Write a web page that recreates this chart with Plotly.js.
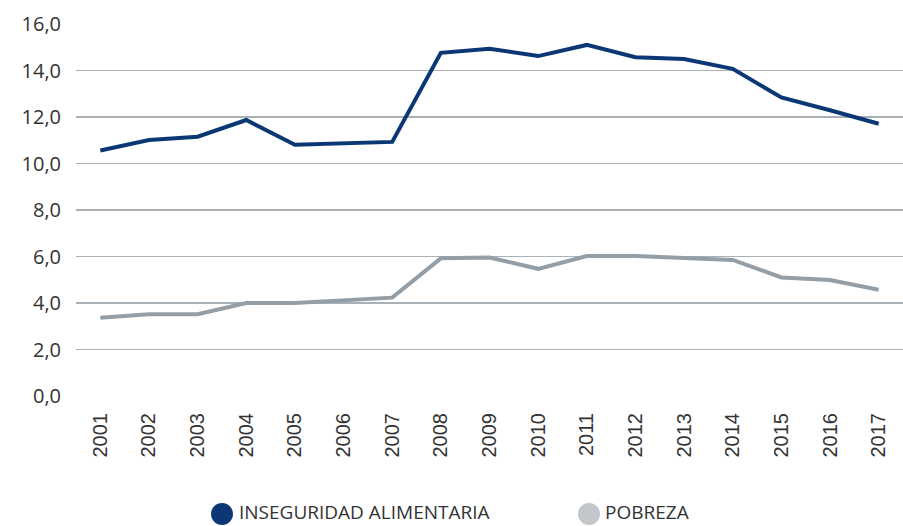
<!DOCTYPE html>
<html>
<head>
<meta charset="utf-8">
<script src="https://cdn.plot.ly/plotly-3.0.1.min.js"></script>
<style>html,body{margin:0;padding:0;background:#fff;}#chart{width:903px;height:526px;}</style>
</head>
<body>
<div id="chart"></div>
<script>
var years = ['2001','2002','2003','2004','2005','2006','2007','2008','2009','2010','2011','2012','2013','2014','2015','2016','2017'];
var inseguridad = [10.56, 11.01, 11.15, 11.87, 10.81, 10.87, 10.93, 14.76, 14.94, 14.62, 15.1, 14.57, 14.49, 14.07, 12.84, 12.29, 11.71];
var pobreza = [3.37, 3.52, 3.52, 4.0, 4.0, 4.12, 4.23, 5.92, 5.96, 5.47, 6.02, 6.02, 5.93, 5.85, 5.1, 4.99, 4.57];
var legendNames = ['INSEGURIDAD ALIMENTARIA', 'POBREZA'];

var darkBlue = '#0b3875';
var grayLine = '#939ea6';
var grayLegend = '#c3c6ca';

var traces = [
  {x: years, y: inseguridad, type: 'scatter', mode: 'lines', name: legendNames[0],
   line: {color: darkBlue, width: 4}, showlegend: false},
  {x: years, y: pobreza, type: 'scatter', mode: 'lines', name: legendNames[1],
   line: {color: grayLine, width: 4}, showlegend: false}
];

function px(x){ return (x - 76) / 827; }
function py(y){ return (396 - y) / 372; }

var layout = {
  width: 903, height: 526,
  margin: {l: 76, r: 0, t: 24, b: 130},
  paper_bgcolor: '#fff', plot_bgcolor: '#fff',
  separators: ',.',
  showlegend: false,
  font: {family: 'Open Sans, sans-serif', color: '#333'},
  xaxis: {
    type: 'category', range: [-0.5, 16.5], showgrid: false, zeroline: false,
    showline: false, ticks: '', tickangle: -90,
    tickfont: {family: 'Liberation Sans, Arial, sans-serif', size: 20, color: '#333'},
    ticklabelstandoff: 12
  },
  yaxis: {
    range: [0, 16], dtick: 2, tick0: 0, tickformat: '.1f',
    showgrid: true, gridcolor: '#a9b0b6', gridwidth: 1.3,
    zeroline: false, showline: false, ticks: '',
    tickfont: {family: 'Open Sans, sans-serif', size: 20, color: '#333'},
    ticklabelstandoff: 14
  },
  shapes: [
    {type: 'circle', xref: 'paper', yref: 'paper', xsizemode: 'pixel', ysizemode: 'pixel',
     xanchor: px(222), yanchor: py(514), x0: -11, x1: 11, y0: -11, y1: 11,
     fillcolor: darkBlue, line: {width: 0}},
    {type: 'circle', xref: 'paper', yref: 'paper', xsizemode: 'pixel', ysizemode: 'pixel',
     xanchor: px(589), yanchor: py(514), x0: -11, x1: 11, y0: -11, y1: 11,
     fillcolor: grayLegend, line: {width: 0}}
  ],
  annotations: [
    {xref: 'paper', yref: 'paper', x: px(237), y: py(512), xanchor: 'left', yanchor: 'middle',
     text: legendNames[0], showarrow: false,
     font: {family: 'Open Sans, sans-serif', size: 19, color: '#333'}},
    {xref: 'paper', yref: 'paper', x: px(603), y: py(512), xanchor: 'left', yanchor: 'middle',
     text: legendNames[1], showarrow: false,
     font: {family: 'Open Sans, sans-serif', size: 19, color: '#333'}}
  ]
};

Plotly.newPlot('chart', traces, layout, {displayModeBar: false, staticPlot: true});
</script>
</body>
</html>
